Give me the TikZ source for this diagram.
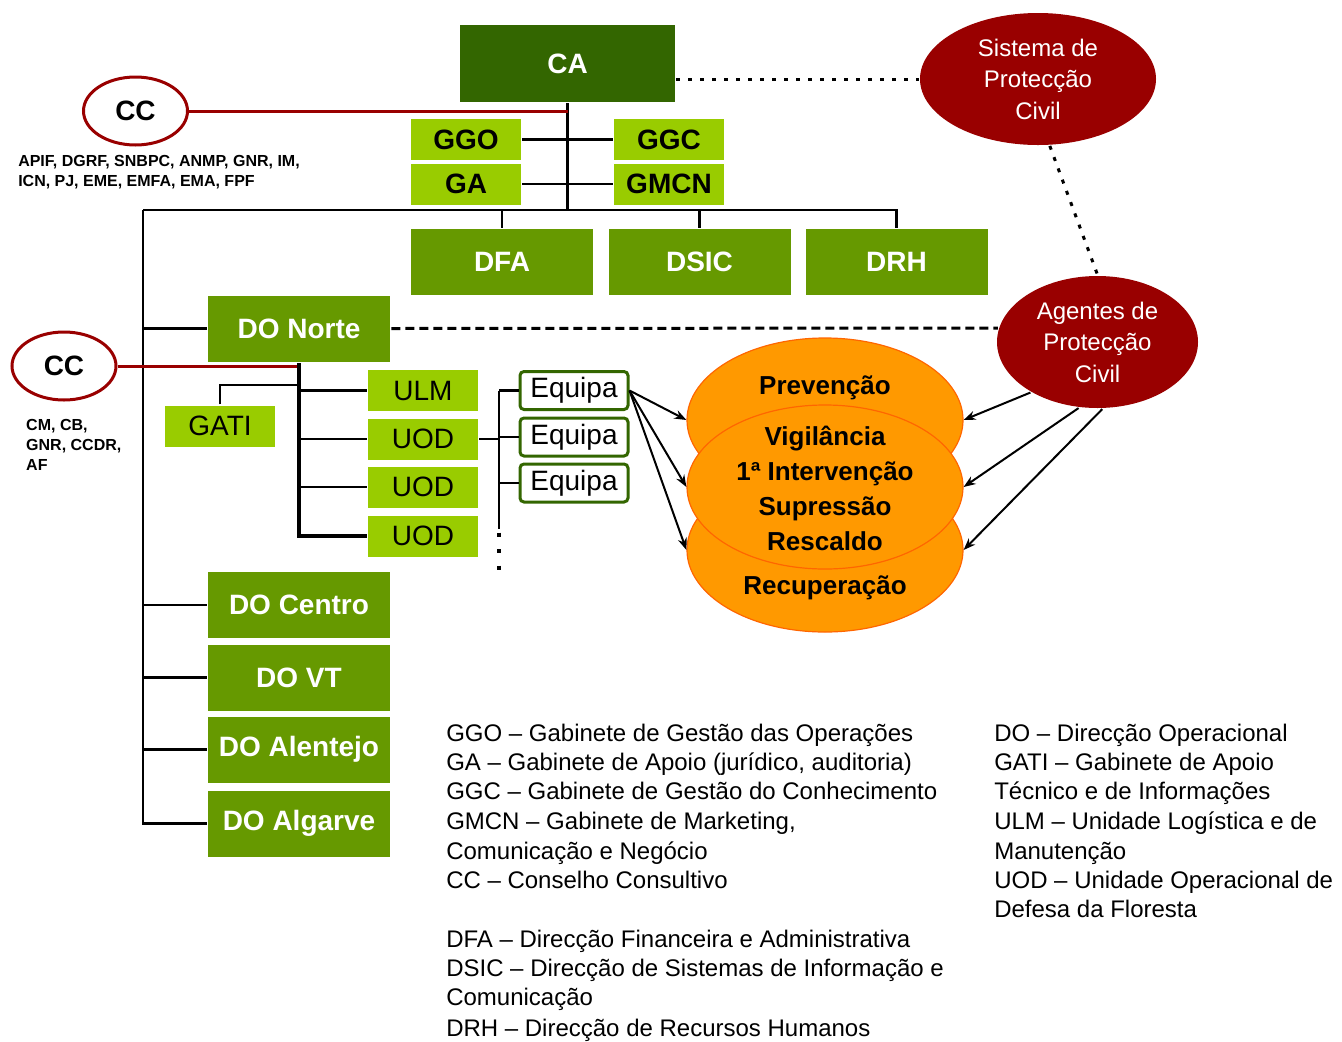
\documentclass[tikz,border=0pt]{standalone}
\usepackage{fontspec}
\setmainfont{Liberation Sans}
\usetikzlibrary{shapes.geometric,arrows.meta}
\definecolor{cagreen}{HTML}{336600}
\definecolor{dogreen}{HTML}{669900}
\definecolor{unitgreen}{HTML}{99CC00}
\definecolor{pcred}{HTML}{990000}
\definecolor{fireorange}{HTML}{FF9900}
\definecolor{fireline}{HTML}{FF6600}

\begin{document}
\begin{tikzpicture}[x=1pt,y=-1pt,line width=2.5pt,
  cabox/.style={fill=cagreen,text=white,font=\fontsize{28}{30}\selectfont\bfseries,minimum width=215pt,minimum height=77pt,inner sep=0pt},
  dirbox/.style={fill=dogreen,text=white,font=\fontsize{28}{30}\selectfont\bfseries,minimum width=182pt,minimum height=66pt,inner sep=0pt},
  gabbox/.style={fill=unitgreen,font=\fontsize{28}{30}\selectfont\bfseries,minimum width=110pt,minimum height=41pt,inner sep=0pt},
  unitbox/.style={fill=unitgreen,font=\fontsize{28}{30}\selectfont,minimum width=110pt,minimum height=41pt,inner sep=0pt},
  teambox/.style={draw=cagreen,line width=3pt,rounded corners=4pt,fill=white,font=\fontsize{28}{30}\selectfont,minimum width=108pt,minimum height=38pt,inner sep=0pt},
  ccell/.style={ellipse,draw=pcred,line width=3pt,fill=white,font=\fontsize{28}{30}\selectfont\bfseries,minimum width=104pt,minimum height=68pt,inner sep=0pt},
  pcell/.style={ellipse,fill=pcred,text=white,font=\fontsize{24}{31.5}\selectfont,align=center,inner sep=0pt},
  phase/.style={ellipse,fill=fireorange,draw=fireline,line width=1.2pt,minimum width=276pt,minimum height=164pt,inner sep=0pt},
  phasetxt/.style={font=\fontsize{26}{35}\selectfont\bfseries,align=center},
  memo/.style={font=\fontsize{16}{20}\selectfont\bfseries,align=left,anchor=north west,inner sep=0pt},
  legend/.style={font=\fontsize{24}{29.5}\selectfont,anchor=base west,inner sep=0pt},
  redlink/.style={draw=pcred,line width=3pt},
  dots/.style={line width=3pt,dash pattern=on 4pt off 8pt},
  dashes/.style={line width=3pt,dash pattern=on 9pt off 5pt},
  arr/.style={-{Stealth[length=12pt,width=9pt]},line width=2pt}]
\path[fill=white] (0,0) rectangle (1342,1039);
% top level
\node[cabox] (ca) at (567.5,63.5) {CA};
\node[pcell,minimum width=236pt,minimum height=132pt] (sistema) at (1038,79) {Sistema de\\Protecção\\Civil};
\node[ccell] (cctop) at (135.5,111) {CC};
\node[memo] (memotop) at (17,154) {APIF, DGRF, SNBPC, ANMP, GNR, IM,\\ICN, PJ, EME, EMFA, EMA, FPF};
\node[gabbox] (ggo) at (466,139.5) {GGO};
\node[gabbox] (ga) at (466,184) {GA};
\node[gabbox] (ggc) at (669,139.5) {GGC};
\node[gabbox] (gmcn) at (669,184) {GMCN};
\node[dirbox] (dfa) at (502,262) {DFA};
\node[dirbox] (dsic) at (699.5,262) {DSIC};
\node[dirbox] (drh) at (896.5,262) {DRH};
% DO Norte
\node[dirbox] (donorte) at (299,328.5) {DO Norte};
\node[pcell,minimum width=201pt,minimum height=132pt] (agentes) at (1097.5,342) {Agentes de\\Protecção\\Civil};
\node[ccell] (ccnorte) at (64,366) {CC};
\node[memo] (memonorte) at (25,418) {CM, CB,\\GNR, CCDR,\\AF};
\node[unitbox] (gati) at (220,426) {GATI};
\node[unitbox] (ulm) at (423,390.5) {ULM};
\node[unitbox] (uod1) at (423,439) {UOD};
\node[unitbox] (uod2) at (423,487) {UOD};
\node[unitbox] (uod3) at (423,536) {UOD};
\node[teambox] (eq1) at (574,390.5) {Equipa};
\node[teambox] (eq2) at (574,437) {Equipa};
\node[teambox] (eq3) at (574,483) {Equipa};
% phases
\node[phase] (prev) at (825,420) {};
\node[phase] (rec) at (825,550) {};
\node[phase] (mid) at (825,487) {};
\node[phasetxt] (prevtxt) at (825,388) {Prevenção};
\node[phasetxt] (midtxt) at (825,488) {Vigilância\\1ª Intervenção\\Supressão\\Rescaldo};
\node[phasetxt] (rectxt) at (825,588) {Recuperação};
% other DOs
\node[dirbox] (docentro) at (299,605) {DO Centro};
\node[dirbox] (dovt) at (299,677.5) {DO VT};
\node[dirbox] (doalentejo) at (299,749.5) {DO Alentejo};
\node[dirbox] (doalgarve) at (299,823.5) {DO Algarve};

% connectors
\coordinate (busl) at (143,210);
\draw (ca.south) -- (ca.south |- busl);
\draw (busl) -| (drh.north);
\draw (dfa.north |- busl) -- (dfa.north);
\draw (dsic.north |- busl) -- (dsic.north);
\draw (ggo.east) -- (ggc.west);
\draw (ga.east) -- (gmcn.west);
\draw[redlink] (cctop.east) -- (cctop.east -| ca.south);
\draw (busl) |- (doalgarve.west);
\draw (busl |- donorte.west) -- (donorte.west);
\draw (busl |- docentro.west) -- (docentro.west);
\draw (busl |- dovt.west) -- (dovt.west);
\draw (busl |- doalentejo.west) -- (doalentejo.west);
\draw[dots] (ca.east |- sistema.west) -- (sistema.west);
\draw[dots] (sistema.-80) -- (agentes.north);
\draw[dashes] (donorte.east) -- (agentes.172);

\draw[redlink] (ccnorte.east) -- (ccnorte.east -| donorte.south);
\draw[line width=4pt] (donorte.south) |- (uod3.west);
\draw (donorte.south |- ulm.west) -- (ulm.west);
\draw (donorte.south |- uod1.west) -- (uod1.west);
\draw (donorte.south |- uod2.west) -- (uod2.west);
\draw (gati.north) |- ([yshift=-22pt]donorte.south);

\coordinate (eqbus) at (499,390.5);
\draw (uod1.east) -- (uod1.east -| eqbus);
\draw (eqbus) -- (eq1.west);
\draw (eqbus |- eq2.west) -- (eq2.west);
\draw (eqbus |- eq3.west) -- (eq3.west);
\draw (eqbus) -- ++(0,138);
\draw[line width=4pt,dash pattern=on 4pt off 12.5pt] (eqbus) ++(0,142) -- ++(0,40);

\draw[arr] (eq1.east) -- (prev.west);
\draw[arr] (eq1.east) -- (mid.west);
\draw[arr] (eq1.east) -- (rec.west);
\draw[arr] (agentes.-143) -- (prev.east);
\draw[arr] (agentes.-106) -- (mid.east);
\draw[arr] (agentes.-86) -- (rec.east);

% legend
\foreach \yy/\txt [count=\i] in {741.5/{GGO – Gabinete de Gestão das Operações},
    770.5/{GA – Gabinete de Apoio (jurídico, auditoria)},
    799.5/{GGC – Gabinete de Gestão do Conhecimento},
    829.5/{GMCN – Gabinete de Marketing,},
    859.5/{Comunicação e Negócio},
    888.5/{CC – Conselho Consultivo},
    947.5/{DFA – Direcção Financeira e Administrativa},
    976.5/{DSIC – Direcção de Sistemas de Informação e},
    1005.5/{Comunicação},
    1036/{DRH – Direcção de Recursos Humanos}}
  \node[legend] (legl\i) at (445,\yy) {\txt};
\foreach \yy/\txt [count=\i] in {741.5/{DO – Direcção Operacional},
    770.5/{GATI – Gabinete de Apoio},
    799.5/{Técnico e de Informações},
    829.5/{ULM – Unidade Logística e de},
    859.5/{Manutenção},
    888.5/{UOD – Unidade Operacional de},
    917.5/{Defesa da Floresta}}
  \node[legend] (legr\i) at (993,\yy) {\txt};
\end{tikzpicture}
\end{document}
